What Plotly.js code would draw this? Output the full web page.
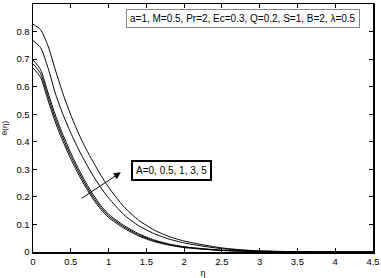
<!DOCTYPE html>
<html>
<head>
<meta charset="utf-8">
<script src="https://cdn.plot.ly/plotly-3.0.1.min.js"></script>
<style>html,body{margin:0;padding:0;background:#fff;}#chart{width:381px;height:278px;}</style>
</head>
<body>
<div id="chart"></div>
<script>
var eta = [0, 0.1, 0.2, 0.3, 0.4, 0.5, 0.6, 0.7, 0.8, 0.9, 1.0, 1.2, 1.4, 1.6, 1.8, 2.0, 2.25, 2.5, 2.75, 3.0, 3.5, 4.0, 4.5];
var thetaA0  = [0.668, 0.634, 0.549, 0.468, 0.399, 0.338, 0.283, 0.234, 0.190, 0.154, 0.125, 0.087, 0.058, 0.038, 0.025, 0.016, 0.010, 0.0055, 0.003, 0.0018, 0.0004, 0.0001, 0];
var thetaA05 = [0.697, 0.662, 0.577, 0.494, 0.423, 0.360, 0.303, 0.252, 0.206, 0.168, 0.137, 0.097, 0.066, 0.044, 0.029, 0.019, 0.012, 0.0065, 0.004, 0.002, 0.0006, 0.0001, 0];
var thetaA1  = [0.683, 0.648, 0.563, 0.481, 0.411, 0.349, 0.293, 0.243, 0.198, 0.161, 0.131, 0.092, 0.062, 0.041, 0.027, 0.018, 0.011, 0.006, 0.0035, 0.002, 0.0005, 0.0001, 0];
var thetaA3  = [0.767, 0.742, 0.667, 0.572, 0.497, 0.432, 0.374, 0.322, 0.275, 0.233, 0.196, 0.136, 0.095, 0.067, 0.047, 0.033, 0.021, 0.012, 0.007, 0.0035, 0.0009, 0.0002, 0];
var thetaA5  = [0.827, 0.807, 0.747, 0.657, 0.572, 0.497, 0.432, 0.375, 0.325, 0.278, 0.235, 0.165, 0.115, 0.080, 0.056, 0.040, 0.026, 0.015, 0.008, 0.004, 0.001, 0.0002, 0];
var seriesNames = ["A=0", "A=0.5", "A=1", "A=3", "A=5"];
var seriesData = [thetaA0, thetaA05, thetaA1, thetaA3, thetaA5];
var xTicks = [0, 0.5, 1, 1.5, 2, 2.5, 3, 3.5, 4, 4.5];
var yTicks = [0, 0.1, 0.2, 0.3, 0.4, 0.5, 0.6, 0.7, 0.8, 0.9];
var paramText = "a=1, M=0.5, Pr=2, Ec=0.3, Q=0.2, S=1, B=2, λ=0.5";
var labelText = "A=0, 0.5, 1, 3, 5";
var arrowTail = [0.623, 0.191];
var arrowHead = [1.162, 0.289];

var traces = seriesData.map(function(d, i) {
  return {x: eta, y: d, name: seriesNames[i], type: 'scatter', mode: 'lines',
          line: {color: '#000', width: 1, shape: 'spline', smoothing: 0.6}};
});

var font = "Liberation Sans, Arial, sans-serif";
var layout = {
  width: 381, height: 278,
  margin: {l: 33, r: 8, t: 4, b: 26},
  paper_bgcolor: '#fff', plot_bgcolor: '#fff',
  showlegend: false,
  font: {family: font, size: 9, color: '#000'},
  xaxis: {range: [0, 4.5], tickvals: xTicks, ticktext: xTicks.map(String),
          ticks: 'inside', ticklen: 4, tickwidth: 1, tickcolor: '#000',
          showline: true, linecolor: '#000', linewidth: 1.5, mirror: 'ticks',
          showgrid: false, zeroline: false, tickfont: {size: 9.5},
          title: {text: 'η', font: {size: 9}, standoff: 6}},
  yaxis: {range: [0, 0.9], tickvals: yTicks, ticktext: yTicks.map(String),
          ticks: 'inside', ticklen: 4, tickwidth: 1, tickcolor: '#000',
          showline: true, linecolor: '#000', linewidth: 1.5, mirror: 'ticks',
          showgrid: false, zeroline: false, tickfont: {size: 9.5},
          title: {text: 'θ(η)', font: {size: 8}, standoff: 7}},
  annotations: [
    {xref: 'paper', yref: 'paper', x: 0.618, y: 0.9415, xanchor: 'center', yanchor: 'middle',
     text: paramText, showarrow: false, font: {size: 10, family: font},
     bgcolor: '#fff', bordercolor: '#888', borderwidth: 1, borderpad: 3},
    {xref: 'paper', yref: 'paper', x: 0.407, y: 0.329, xanchor: 'center', yanchor: 'middle',
     text: labelText, showarrow: false, font: {size: 10, family: font},
     bgcolor: '#fff', bordercolor: '#000', borderwidth: 2, borderpad: 3},
    {x: arrowHead[0], y: arrowHead[1], ax: arrowTail[0], ay: arrowTail[1],
     xref: 'x', yref: 'y', axref: 'x', ayref: 'y', text: '', showarrow: true,
     arrowhead: 2, arrowsize: 1.4, arrowwidth: 1, arrowcolor: '#000'}
  ]
};
Plotly.newPlot('chart', traces, layout, {displayModeBar: false, staticPlot: true});
</script>
</body>
</html>
